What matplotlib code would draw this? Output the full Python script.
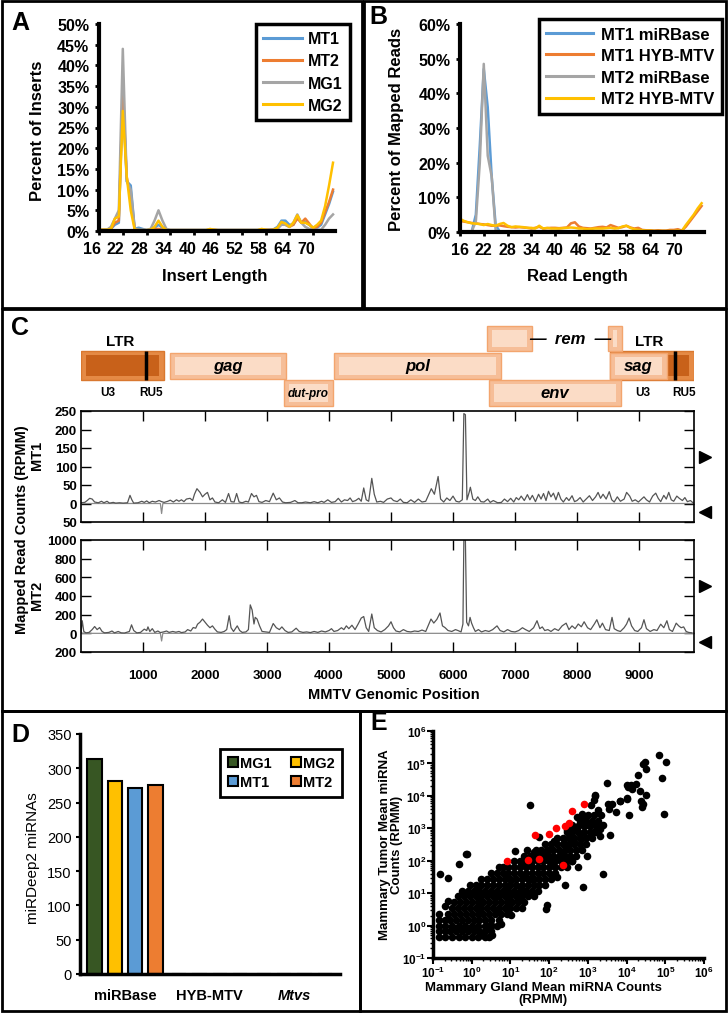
import numpy as np
import matplotlib
matplotlib.use("Agg")
import matplotlib.pyplot as plt
from matplotlib.patches import Rectangle, Patch
from matplotlib.transforms import ScaledTranslation
from matplotlib.ticker import FuncFormatter, LogLocator, NullFormatter

plt.rcParams['font.family'] = ['Liberation Sans', 'DejaVu Sans']
plt.rcParams['mathtext.fontset'] = 'custom'
plt.rcParams['mathtext.rm'] = 'Liberation Sans'
plt.rcParams['mathtext.bf'] = 'Liberation Sans:bold'

########################## data ##########################
# A: insert length distribution (%)
lengths_a = list(range(16, 76))
ins_mt1 = [0.3, 0.3, 0.3, 0.5, 1.5, 2.0, 33, 12, 11, 0.5, 0.8, 0.5,
           0.2, 0.3, 0.8, 1.5, 0.8, 0.3,
           0.2, 0.2, 0.2, 0.2, 0.2, 0.2, 0.2, 0.2, 0.2, 0.2, 0.3, 0.2, 0.2,
           0.2, 0.2, 0.2, 0.2, 0.2, 0.2, 0.2, 0.2, 0.2, 0.2, 0.3, 0.2, 0.3,
           0.4, 1.0, 2.5, 2.5, 1.5, 1.5, 3.5, 2.0, 2.2, 1.5, 0.8, 0.8, 1.5, 4.0, 6.5, 9.5]
ins_mt2 = [0.3, 0.3, 0.3, 0.5, 2.0, 2.5, 34, 13, 8, 0.5, 0.2, 0.2,
           0.2, 0.2, 0.5, 0.5, 0.3, 0.2,
           0.2, 0.2, 0.2, 0.2, 0.2, 0.2, 0.2, 0.2, 0.2, 0.2, 0.3, 0.3, 0.2,
           0.2, 0.2, 0.2, 0.2, 0.2, 0.2, 0.2, 0.2, 0.2, 0.2, 0.3, 0.3, 0.3,
           0.3, 0.6, 1.8, 1.5, 1.0, 1.5, 3.0, 2.0, 3.0, 1.8, 0.5, 1.0, 2.0, 4.5, 7.0, 10.0]
ins_mg1 = [0.3, 0.3, 0.3, 1.0, 3.0, 5.0, 44, 12, 10, 0.5, 0.3, 0.3,
           0.3, 0.5, 2.5, 5.0, 2.5, 0.5,
           0.3, 0.3, 0.3, 0.3, 0.3, 0.3, 0.3, 0.3, 0.3, 0.3, 0.3, 0.3, 0.3,
           0.3, 0.3, 0.3, 0.3, 0.3, 0.3, 0.3, 0.3, 0.3, 0.3, 0.3, 0.3, 0.3,
           0.2, 0.5, 1.5, 1.5, 1.0, 2.0, 4.0, 2.0, 1.0, 0.5, 0.3, 0.3, 0.3, 1.5, 3.0, 4.0]
ins_mg2 = [0.3, 0.3, 0.3, 0.5, 3.0, 3.5, 29, 13, 5, 0.3, 0.2, 0.2,
           0.2, 0.3, 1.0, 2.5, 1.0, 0.2,
           0.2, 0.2, 0.2, 0.2, 0.2, 0.2, 0.2, 0.2, 0.2, 0.2, 0.5, 0.3, 0.2,
           0.2, 0.2, 0.2, 0.2, 0.2, 0.2, 0.2, 0.2, 0.2, 0.2, 0.5, 0.3, 0.2,
           0.3, 0.8, 2.2, 1.8, 1.0, 2.0, 3.8, 2.0, 2.0, 1.5, 0.8, 1.5, 2.5, 6.0, 11.0, 16.5]
labels_a = ['MT1', 'MT2', 'MG1', 'MG2']

# B: read length of mapped reads (%)
lengths_b = list(range(16, 78))
mt1_mirbase = [0, 0, 0, 0.3, 5, 25, 47, 36, 16, 2, 0.2, 0,
               0, 0, 0, 0, 0, 0, 0, 0, 0, 0, 0, 0, 0, 0, 0, 0, 0, 0, 0, 0, 0, 0, 0, 0, 0, 0,
               0, 0, 0, 0, 0, 0, 0, 0, 0, 0, 0, 0, 0, 0, 0, 0, 0, 0, 0, 0, 0, 0, 0, 0]
mt2_mirbase = [0, 0, 0, 0.3, 3, 20, 48.5, 22, 16, 0.5, 0, 0,
               0, 0, 0, 0, 0, 0, 0, 0, 0, 0, 0, 0, 0, 0, 0, 0, 0, 0, 0, 0, 0, 0, 0, 0, 0, 0,
               0, 0, 0, 0, 0, 0, 0, 0, 0, 0, 0, 0, 0, 0, 0, 0, 0, 0, 0, 0, 0, 0, 0, 0]
mt1_hyb = [3.2, 3.0, 2.8, 2.6, 2.5, 2.3, 2.2, 2.0, 1.8, 1.8,
           1.9, 1.7, 1.5, 1.4, 1.3, 1.4, 1.3, 1.2, 1.0, 1.2,
           1.5, 1.0, 1.1, 1.2, 1.2, 1.1, 1.2, 1.3, 2.5, 2.8,
           1.6, 1.2, 1.1, 1.0, 1.2, 1.4, 1.5, 1.3, 2.0, 1.6,
           1.2, 1.4, 1.8, 1.3, 1.0, 1.2, 0.6, 0.5, 0.5, 0.4,
           0.5, 0.4, 0.4, 0.6, 0.6, 0.8, 0.4, 1.5, 3.0, 4.5, 6.0, 7.5]
mt2_hyb = [3.8, 3.2, 2.8, 2.5, 2.4, 2.3, 2.0, 2.3, 2.0, 1.8,
           2.3, 2.6, 1.8, 1.4, 1.6, 1.5, 1.4, 1.2, 1.2, 1.0,
           1.8, 1.0, 1.2, 1.0, 1.0, 1.0, 1.1, 1.2, 1.3, 1.2,
           1.0, 1.0, 0.8, 0.9, 1.0, 1.0, 1.0, 1.1, 1.2, 1.0,
           1.1, 1.6, 1.8, 1.2, 0.8, 0.6, 0.5, 0.4, 0.4, 0.3,
           0.3, 0.3, 0.3, 0.3, 0.3, 0.4, 0.3, 2.0, 3.5, 5.0, 6.8, 8.3]
labels_b = ['MT1 miRBase', 'MT1 HYB-MTV', 'MT2 miRBase', 'MT2 HYB-MTV']

# C: MMTV genome map and coverage (RPMM)
genome_len = 9887
gene_names = ['gag', 'dut-pro', 'pol', 'env', 'sag']
gene_start = [1435, 3274, 4080, 6580, 8532]
gene_end = [3306, 4065, 6774, 8710, 9452]
gene_track = [1, 2, 1, 2, 1]
rem_start = [6548, 8500]
rem_end = [7274, 8726]
ltr_start = [0, 8532]
ltr_end = [1339, 9887]
ltr_bar = [1048, 9580]
u3_pos = [435, 9065]
ru5_pos = [1129, 9726]

mt1_pos = [0, 60, 100, 140, 180, 220, 280, 330, 370, 420, 460, 520, 560, 620, 680, 750, 790, 820, 850,
           920, 980, 1020, 1060, 1100, 1150, 1200, 1260, 1300, 1340, 1400, 1440, 1490, 1540, 1580, 1620,
           1660, 1700, 1760, 1800, 1830, 1870, 1920, 1960, 2000, 2040, 2080, 2120, 2160, 2220, 2280, 2330,
           2380, 2420, 2470, 2510, 2550, 2600, 2660, 2700, 2750, 2790, 2830, 2870, 2920, 2980, 3040, 3100,
           3150, 3200, 3250, 3300, 3380, 3450, 3500, 3560, 3620, 3700, 3760, 3820, 3880, 3920, 3980, 4040,
           4100, 4150, 4200, 4250, 4300, 4340, 4380, 4430, 4480, 4520, 4560, 4600, 4640, 4690, 4730, 4770,
           4830, 4880, 4940, 5000, 5040, 5100, 5150, 5200, 5260, 5320, 5380, 5440, 5500, 5560, 5610, 5650,
           5700, 5760, 5800, 5850, 5900, 5950, 6000, 6050, 6100, 6150, 6175, 6200, 6225, 6260, 6280, 6320,
           6360, 6400, 6450, 6500, 6560, 6600, 6650, 6720, 6780, 6830, 6880, 6930, 6980, 7020, 7060, 7100,
           7150, 7200, 7240, 7280, 7330, 7380, 7420, 7460, 7500, 7540, 7580, 7620, 7660, 7700, 7740, 7780,
           7830, 7870, 7920, 7960, 8000, 8050, 8100, 8160, 8200, 8250, 8300, 8340, 8380, 8420, 8470, 8520,
           8560, 8600, 8650, 8700, 8760, 8800, 8850, 8890, 8940, 8990, 9040, 9080, 9120, 9170, 9220, 9270,
           9310, 9350, 9400, 9440, 9480, 9520, 9560, 9610, 9650, 9700, 9740, 9780, 9830, 9870]
mt1_val = [2, 3, 8, 14, 12, 4, 2, 6, 2, 6, 1, 3, 1, 2, 1, 2, 22, 10, 1,
           2, 6, 3, 7, 2, 6, 4, 8, 5, 3, 6, 9, 4, 10, 6, 10,
           5, 12, 14, 8, 25, 40, 30, 18, 25, 30, 10, 15, 4, 2, 10, 3,
           27, 5, 4, 27, 4, 2, 6, 4, 27, 18, 22, 5, 3, 8, 5, 28,
           10, 15, 4, 2, 3, 8, 2, 2, 4, 2, 5, 2, 6, 3, 10, 3,
           5, 14, 4, 10, 8, 15, 5, 8, 14, 6, 42, 10, 6, 68, 25, 4,
           6, 3, 12, 15, 8, 5, 12, 3, 2, 10, 3, 12, 4, 6, 25, 40,
           25, 73, 12, 4, 15, 8, 20, 6, 4, 10, 243, 240, 10, 30, 44, 12,
           8, 18, 5, 4, 12, 3, 8, 2, 3, 12, 5, 14, 4, 16, 10, 20,
           8, 24, 10, 22, 5, 25, 12, 27, 8, 33, 18, 28, 10, 30, 12, 4,
           16, 8, 21, 5, 8, 16, 4, 14, 21, 8, 18, 30, 14, 25, 12, 32,
           10, 4, 18, 6, 12, 30, 20, 6, 10, 4, 12, 18, 10, 4, 20, 28,
           14, 5, 22, 12, 30, 10, 6, 20, 14, 8, 16, 5, 8, 2]

mt2_pos = [0, 20, 45, 80, 130, 180, 220, 260, 300, 340, 380, 450, 500, 540, 600, 650, 700, 780, 815,
           850, 900, 960, 1020, 1060, 1080, 1110, 1150, 1190, 1240, 1280, 1330, 1380, 1420, 1480, 1530,
           1580, 1620, 1680, 1720, 1770, 1810, 1850, 1880, 1920, 1960, 2000, 2040, 2080, 2120, 2160, 2200,
           2260, 2310, 2350, 2390, 2420, 2460, 2520, 2560, 2600, 2660, 2700, 2730, 2760, 2790, 2810, 2840,
           2880, 2920, 2980, 3040, 3100, 3150, 3200, 3240, 3290, 3340, 3400, 3470, 3520, 3580, 3640, 3700,
           3760, 3820, 3880, 3940, 4000, 4040, 4080, 4140, 4200, 4240, 4280, 4320, 4370, 4420, 4470, 4520,
           4560, 4600, 4640, 4690, 4730, 4780, 4840, 4900, 4960, 5000, 5040, 5080, 5140, 5200, 5260, 5320,
           5380, 5440, 5500, 5560, 5610, 5645, 5690, 5740, 5790, 5830, 5870, 5920, 5980, 6040, 6080, 6130,
           6160, 6175, 6200, 6220, 6250, 6275, 6300, 6330, 6360, 6410, 6460, 6520, 6580, 6640, 6710, 6760,
           6820, 6880, 6940, 7000, 7060, 7120, 7170, 7230, 7300, 7355, 7400, 7440, 7480, 7530, 7580, 7640,
           7700, 7760, 7825, 7870, 7920, 7970, 8020, 8070, 8115, 8170, 8220, 8280, 8320, 8370, 8410, 8460,
           8520, 8565, 8600, 8650, 8700, 8760, 8800, 8840, 8880, 8930, 8980, 9040, 9080, 9120, 9180, 9240,
           9290, 9350, 9400, 9450, 9490, 9540, 9600, 9640, 9680, 9720, 9760, 9800, 9850]
mt2_val = [5, 135, 20, 5, 10, 40, 73, 40, 62, 20, 5, 10, 25, 5, 20, 5, 3, 20, 91,
           30, 5, 10, 45, 30, 69, 20, 50, 10, 25, 8, 15, 25, 10, 20, 12,
           20, 8, 15, 40, 25, 62, 55, 98, 120, 153, 120, 87, 60, 80, 44, 15,
           10, 20, 40, 189, 60, 20, 80, 30, 10, 15, 40, 305, 250, 100, 171, 153,
           80, 20, 15, 10, 105, 60, 40, 69, 30, 10, 15, 55, 20, 10, 15, 8,
           20, 10, 25, 15, 30, 50, 20, 30, 60, 40, 80, 50, 87, 40, 100, 164,
           180, 60, 20, 207, 60, 30, 15, 40, 80, 124, 60, 25, 15, 40, 20, 15,
           25, 20, 35, 20, 100, 153, 110, 150, 218, 80, 62, 30, 20, 40, 30, 15,
           100, 1000, 1000, 120, 80, 171, 109, 60, 20, 40, 15, 30, 20, 40, 80, 30,
           15, 40, 20, 15, 30, 60, 40, 20, 60, 135, 50, 69, 30, 40, 20, 50,
           30, 80, 109, 40, 80, 50, 100, 70, 124, 60, 40, 100, 146, 60, 109, 40,
           30, 171, 50, 30, 20, 60, 100, 164, 80, 30, 20, 60, 146, 50, 20, 40,
           30, 98, 60, 135, 40, 20, 109, 80, 60, 69, 20, 10, 5]

neg_pos = [0, 1280, 1300, 1320, 9887]
mt1_neg = [0, 0, -27, 0, 0]
mt2_neg = [0, 0, -82, 0, 0]

# D: miRDeep2 miRNA counts
d_cats = ['miRBase', 'HYB-MTV', 'Mtvs']
d_mg1 = [313, 0, 0]
d_mg2 = [281, 0, 0]
d_mt1 = [271, 0, 0]
d_mt2 = [275, 0, 0]

# E: mean miRNA counts, log10 RPMM (gland x, tumor y)
e_scat_x = [4.84, 5.01, 4.43, 4.49, 4.91, 4.97, 4.49, 4.37, 4.41, 4.24, 4.11, 4.02, 4.15, 4.00, 4.05,
            3.50, 3.83, 3.63, 3.55, 3.72, 3.57, 3.40, 3.18, 3.16, 3.25, 3.07, 3.33, 3.38, 3.20, 2.86,
            2.90, 2.73, 2.94, 2.73, 3.16, 3.32, 3.07, 2.82, 2.60, 2.47, 2.56, 2.64, 2.38, 2.43, 2.30,
            2.43, 2.21, 2.08, 2.82, 2.38, 2.41, 2.88, 2.13, 2.13, 2.04, 1.94, 1.74, 1.78, 1.87, 1.61,
            1.48, 1.44, 1.51, 1.12, 1.52, 1.27, 1.35, 1.52, 1.27, 1.94, 1.91, 1.01, 0.92, 0.71, -0.11,
            -0.16, -0.33, -0.82, -0.61, 0.66, 0.75, 1.01, 0.49, 0.53, 0.27, 3.19, 3.52, 3.83, 4.0, 4.04,
            4.30, 4.47, 4.35, 4.43, 2.80, 2.97, 2.75, 3.32, 0.65, 0.39, -0.7, -0.6, 2.2, 2.6, 1.2]
e_scat_y = [5.27, 5.04, 4.99, 4.82, 4.55, 3.45, 4.04, 3.83, 3.66, 4.38, 4.34, 4.32, 4.22, 3.93, 3.42,
            4.40, 3.83, 3.76, 3.60, 3.50, 2.78, 1.60, 4.02, 3.86, 3.55, 3.71, 3.40, 3.09, 3.16, 3.45,
            3.30, 3.35, 3.09, 2.94, 2.88, 2.99, 2.78, 2.68, 3.09, 2.94, 2.78, 2.58, 2.68, 2.47, 2.22,
            2.11, 2.06, 1.86, 2.37, 1.86, 1.24, 1.19, 1.55, 2.60, 2.37, 2.22, 2.73, 2.27, 2.01, 2.27,
            2.06, 2.32, 3.73, 2.29, 1.86, 1.86, 1.55, 1.45, 1.19, 0.62, 0.52, 1.39, 1.14, 1.81, 2.22,
            2.20, 1.89, 1.60, 1.48, 0.42, 0.06, 0.32, 0.01, -0.30, -0.30, 3.99, 3.74, 3.84, 3.90, 4.26,
            4.63, 5.05, 4.16, 3.75, 2.82, 2.15, 1.80, 2.76, 0.92, -0.01, 0.6, 0.75, 1.5, 2.0, 0.8]
e_core_y = [-0.35, -0.17, 0.0, 0.18, 0.36, 0.54, 0.72, 0.9, 1.08, 1.26, 1.44, 1.62, 1.8, 1.98,
            2.16, 2.34, 2.52, 2.7, 2.88, 3.06, 3.24, 3.42]
e_core_x = [
    [-0.85, -0.68, -0.51, -0.34, -0.17, 0.0, 0.17, 0.34, 0.45],
    [-0.85, -0.7, -0.55, -0.4, -0.25, -0.1, 0.05, 0.2, 0.35, 0.5],
    [-0.85, -0.68, -0.51, -0.34, -0.17, 0.0, 0.17, 0.34, 0.51, 0.65],
    [-0.85, -0.7, -0.55, -0.4, -0.25, -0.1, 0.05, 0.2, 0.35, 0.5, 0.7],
    [-0.85, -0.6, -0.45, -0.3, -0.15, 0.0, 0.15, 0.3, 0.45, 0.6, 0.75, 0.9],
    [-0.5, -0.35, -0.2, -0.05, 0.1, 0.25, 0.4, 0.55, 0.7, 0.85, 1.0, 1.15, 1.3],
    [-0.45, -0.3, -0.15, 0.0, 0.15, 0.3, 0.45, 0.6, 0.75, 0.9, 1.05, 1.2, 1.35],
    [-0.35, -0.2, -0.05, 0.1, 0.25, 0.4, 0.55, 0.7, 0.85, 1.0, 1.15, 1.3, 1.45, 1.6],
    [-0.25, -0.1, 0.05, 0.2, 0.35, 0.5, 0.65, 0.8, 0.95, 1.1, 1.25, 1.4, 1.55, 1.7],
    [-0.05, 0.1, 0.25, 0.4, 0.55, 0.7, 0.85, 1.0, 1.15, 1.3, 1.45, 1.6, 1.75, 1.9],
    [0.25, 0.4, 0.55, 0.7, 0.85, 1.0, 1.15, 1.3, 1.45, 1.6, 1.75, 1.9, 2.05],
    [0.5, 0.65, 0.8, 0.95, 1.1, 1.25, 1.4, 1.55, 1.7, 1.85, 2.0, 2.15],
    [0.8, 0.95, 1.1, 1.25, 1.4, 1.55, 1.7, 1.85, 2.0, 2.15, 2.3, 2.45],
    [1.1, 1.25, 1.4, 1.55, 1.7, 1.85, 2.0, 2.15, 2.3, 2.45, 2.6],
    [1.35, 1.5, 1.65, 1.8, 1.95, 2.1, 2.25, 2.4, 2.55, 2.7],
    [1.65, 1.8, 1.95, 2.1, 2.25, 2.4, 2.55, 2.7, 2.85],
    [1.9, 2.05, 2.2, 2.35, 2.5, 2.65, 2.8, 2.95],
    [2.2, 2.35, 2.5, 2.65, 2.8, 2.95, 3.1],
    [2.45, 2.6, 2.75, 2.9, 3.05, 3.2],
    [2.6, 2.75, 2.9, 3.05, 3.2, 3.35],
    [2.8, 2.95, 3.1, 3.25],
    [3.0, 3.15],
]
e_red_x = [2.90, 2.60, 2.41, 2.50, 2.17, 2.00, 1.64, 0.90, 1.45, 1.74, 2.36]
e_red_y = [3.76, 3.52, 3.07, 3.17, 3.01, 2.83, 2.80, 1.99, 2.01, 2.06, 1.86]

########################## figure ##########################
W, H = 728, 1020
fig = plt.figure(figsize=(W / 100, H / 100), dpi=100)


def px_axes(x0, y0, x1, y1):
    return fig.add_axes([x0 / W, 1 - y1 / H, (x1 - x0) / W, (y1 - y0) / H])


def ftext(x, y, s, **kw):
    fig.text(x / W, 1 - y / H, s, **kw)


# panel frames
for x0, y0, x1, y1 in [(2, 2, 362, 309), (364, 2, 726, 309), (2, 310, 726, 712),
                       (2, 712, 360, 1012), (360, 712, 726, 1012)]:
    fig.add_artist(Rectangle((x0 / W, 1 - y1 / H), (x1 - x0) / W, (y1 - y0) / H,
                             transform=fig.transFigure, fill=False, lw=2, ec='black'))

excel = ['#5B9BD5', '#ED7D31', '#A5A5A5', '#FFC000']
pct = FuncFormatter(lambda v, p: f"{v:.0f}%")

# ---------- A ----------
axA = px_axes(99, 25, 335, 232)
for vals, col, lab in zip([ins_mt1, ins_mt2, ins_mg1, ins_mg2], excel, labels_a):
    axA.plot(lengths_a, vals, color=col, lw=1.8, label=lab)
axA.set_xlim(16, 75.5)
axA.set_ylim(0, 50)
axA.set_yticks(range(0, 51, 5))
axA.yaxis.set_major_formatter(pct)
axA.set_xticks(range(16, 71, 6))

# ---------- B ----------
axB = px_axes(460, 25, 704, 233)
for vals, col, lab in zip([mt1_mirbase, mt1_hyb, mt2_mirbase, mt2_hyb], excel, labels_b):
    axB.plot(lengths_b, vals, color=col, lw=1.8, label=lab)
axB.set_xlim(16, 77.6)
axB.set_ylim(0, 60)
axB.set_yticks(range(0, 61, 10))
axB.yaxis.set_major_formatter(pct)
axB.set_xticks(range(16, 71, 6))

for ax in (axA, axB):
    for s in ('top', 'right'):
        ax.spines[s].set_visible(False)
    for s in ('left', 'bottom'):
        ax.spines[s].set_linewidth(3)
    ax.tick_params(direction='out', length=3, width=2, labelsize=11.5, pad=4)
    for lab in ax.get_xticklabels() + ax.get_yticklabels():
        lab.set_fontweight('bold')

shift = ScaledTranslation(-0.07, 0, fig.dpi_scale_trans)
for lab in axA.get_xticklabels():
    lab.set_transform(lab.get_transform() + shift)

legA = axA.legend(loc='upper right', bbox_to_anchor=(350 / W, 1 - 25 / H), bbox_transform=fig.transFigure,
                  borderaxespad=0, fancybox=False, edgecolor='black', framealpha=1,
                  prop={'weight': 'bold', 'size': 11.5}, handlelength=2.4, handletextpad=0.4,
                  labelspacing=0.45, borderpad=0.45)
legA.get_frame().set_linewidth(2.5)
for ln in legA.get_lines():
    ln.set_linewidth(2.2)
legB = axB.legend(loc='upper right', bbox_to_anchor=(722 / W, 1 - 20 / H), bbox_transform=fig.transFigure,
                  borderaxespad=0, fancybox=False, edgecolor='black', framealpha=1,
                  prop={'weight': 'bold', 'size': 12}, handlelength=2.8, handletextpad=0.5,
                  labelspacing=0.4, borderpad=0.45)
legB.get_frame().set_linewidth(2.5)
for ln in legB.get_lines():
    ln.set_linewidth(2.2)

ftext(38, 131, 'Percent of Inserts', rotation=90, ha='center', va='center', fontsize=12, fontweight='bold')
ftext(215, 277, 'Insert Length', ha='center', va='center', fontsize=12, fontweight='bold')
ftext(397, 129, 'Percent of Mapped Reads', rotation=90, ha='center', va='center', fontsize=12, fontweight='bold')
ftext(577, 277, 'Read Length', ha='center', va='center', fontsize=12, fontweight='bold')

# ---------- C : genome map ----------
axM = px_axes(81, 318, 694, 412)
axM.set_xlim(0, genome_len)
axM.set_ylim(94, 0)
axM.axis('off')
track_top = {0: 9, 1: 36, 2: 63}
box_h = 26
ix, iy = 75, 4


def bevel_box(x0, x1, top, h, outer, inner, edge):
    axM.add_patch(Rectangle((x0, top), x1 - x0, h, facecolor=outer, edgecolor=edge, lw=1))
    axM.add_patch(Rectangle((x0 + ix, top + iy), x1 - x0 - 2 * ix, h - 2 * iy, facecolor=inner, lw=0))


for s, e, b in zip(ltr_start, ltr_end, ltr_bar):
    bevel_box(s, e, 34, 29, '#E58A45', '#C8611A', '#D9782F')
    axM.plot([b, b], [34, 63], color='black', lw=2.5, solid_capstyle='butt')
for s, e, t in zip(gene_start, gene_end, gene_track):
    bevel_box(s, e, track_top[t], box_h, '#F6BE98', '#FBDCC6', '#F3A56E')
for s, e in zip(rem_start, rem_end):
    bevel_box(s, e, track_top[0], 25, '#F6BE98', '#FBDCC6', '#F3A56E')
for name, s, e, t in zip(gene_names, gene_start, gene_end, gene_track):
    axM.text((s + e) / 2, track_top[t] + box_h / 2, name, ha='center', va='center',
             fontsize=8.5 if name == 'dut-pro' else 12, fontweight='bold', fontstyle='italic')
axM.text((rem_end[0] + rem_start[1]) / 2, track_top[0] + 12.5, '\u2014  rem  \u2014', ha='center', va='center',
         fontsize=12, fontweight='bold', fontstyle='italic')
for s, e in zip(ltr_start, ltr_end):
    axM.text((s + e) / 2 - 40, 24, 'LTR', ha='center', va='center', fontsize=11, fontweight='bold')
for p in u3_pos:
    axM.text(p, 75, 'U3', ha='center', va='center', fontsize=8.5, fontweight='bold')
for p in ru5_pos:
    axM.text(p, 75, 'RU5', ha='center', va='center', fontsize=8.5, fontweight='bold')

# ---------- C : coverage ----------
axT1 = px_axes(81, 412, 694, 523)
axT2 = px_axes(81, 541, 694, 653)
axT1.plot(neg_pos, mt1_neg, color='#8c8c8c', lw=0.9)
axT1.plot(mt1_pos, mt1_val, color='#555555', lw=0.9)
axT2.plot(neg_pos, mt2_neg, color='#8c8c8c', lw=0.9)
axT2.plot(mt2_pos, mt2_val, color='#555555', lw=0.9)
axT1.set_ylim(-50, 250)
axT1.set_yticks(range(-50, 251, 50))
axT2.set_ylim(-200, 1000)
axT2.set_yticks(range(-200, 1001, 200))
absfmt = FuncFormatter(lambda v, p: f"{abs(v):.0f}")
for ax in (axT1, axT2):
    ax.set_xlim(0, genome_len)
    ax.set_xticks(range(1000, 9001, 1000))
    ax.yaxis.set_major_formatter(absfmt)
    ax.tick_params(direction='in', length=7, width=1, top=True, right=True, labelsize=9.5, pad=3)
    for s in ax.spines.values():
        s.set_linewidth(1.2)
    for lab in ax.get_xticklabels() + ax.get_yticklabels():
        lab.set_fontweight('bold')
    ax.plot([1.018], [0.59], marker='>', color='black', markersize=9, transform=ax.transAxes, clip_on=False)
    ax.plot([1.018], [0.09], marker='<', color='black', markersize=9, transform=ax.transAxes, clip_on=False)
axT1.tick_params(labelbottom=False)
axT2.tick_params(pad=12)
axT2.tick_params(axis='y', pad=3)

ftext(22, 530, 'Mapped Read Counts (RPMM)', rotation=90, ha='center', va='center', fontsize=10.5, fontweight='bold')
ftext(37, 455, 'MT1', rotation=90, ha='center', va='center', fontsize=10.5, fontweight='bold')
ftext(37, 595, 'MT2', rotation=90, ha='center', va='center', fontsize=10.5, fontweight='bold')
ftext(394, 695, 'MMTV Genomic Position', ha='center', va='center', fontsize=10.5, fontweight='bold')

# ---------- D ----------
axD = px_axes(80, 735, 340, 975)
d_cols = ['#375623', '#FFC000', '#5B9BD5', '#ED7D31']
d_labels = ['MG1', 'MG2', 'MT1', 'MT2']
xc = np.arange(len(d_cats))
for k, (vals, col) in enumerate(zip([d_mg1, d_mg2, d_mt1, d_mt2], d_cols)):
    axD.bar(xc + (k - 1.5) * 0.24, vals, width=0.17, color=col, edgecolor='black', lw=1.5)
axD.set_xlim(-0.53, 2.54)
axD.set_ylim(0, 350)
axD.set_yticks(range(0, 351, 50))
axD.set_xticks(xc)
axD.set_xticklabels(d_cats, fontweight='bold', fontsize=10.5)
axD.get_xticklabels()[2].set_fontstyle('italic')
axD.tick_params(axis='x', length=0, pad=10)
axD.tick_params(axis='y', direction='out', length=3, width=1.5, labelsize=10.5, pad=3)
for s in ('top', 'right'):
    axD.spines[s].set_visible(False)
for s in ('left', 'bottom'):
    axD.spines[s].set_linewidth(2.5)
handles = [Patch(facecolor=c, edgecolor='black', lw=1.5) for c in d_cols]
order = [0, 2, 1, 3]
legD = axD.legend([handles[i] for i in order], [d_labels[i] for i in order], ncol=2,
                  loc='upper right', bbox_to_anchor=(342 / W, 1 - 750 / H), bbox_transform=fig.transFigure,
                  borderaxespad=0, fancybox=False, edgecolor='black', framealpha=1,
                  prop={'weight': 'bold', 'size': 10.5}, handlelength=0.7, handleheight=0.7,
                  handletextpad=0.15, columnspacing=1.3, labelspacing=0.35, borderpad=0.5)
legD.get_frame().set_linewidth(2)
ftext(33, 858, 'miRDeep2 miRNAs', rotation=90, ha='center', va='center', fontsize=11)

# ---------- E ----------
axE = px_axes(433, 732, 704, 959)
core_x = [x for row in e_core_x for x in row]
core_y = [y for row, y in zip(e_core_x, e_core_y) for x in row]
axE.scatter(10 ** np.array(core_x), 10 ** np.array(core_y), s=30, color='black', lw=0)
axE.scatter(10 ** np.array(e_scat_x), 10 ** np.array(e_scat_y), s=30, color='black', lw=0)
axE.scatter(10 ** np.array(e_red_x), 10 ** np.array(e_red_y), s=30, color='#FF0000', lw=0, zorder=3)
axE.set_xscale('log')
axE.set_yscale('log')
axE.set_xlim(1e-1, 1e6)
axE.set_ylim(1e-1, 1e6)
decades = FuncFormatter(lambda v, p: r'$\mathbf{10^{%d}}$' % int(round(np.log10(v))))
for a in (axE.xaxis, axE.yaxis):
    a.set_major_locator(LogLocator(base=10, numticks=10))
    a.set_major_formatter(decades)
    a.set_minor_locator(LogLocator(base=10, subs=np.arange(2, 10), numticks=10))
    a.set_minor_formatter(NullFormatter())
axE.tick_params(which='major', direction='out', length=4, width=1.5, labelsize=8.5, pad=1)
axE.tick_params(which='minor', direction='out', length=2.5, width=1)
for s in ('top', 'right'):
    axE.spines[s].set_visible(False)
for s in ('left', 'bottom'):
    axE.spines[s].set_linewidth(2.5)
ftext(543, 994, 'Mammary Gland Mean miRNA Counts\n(RPMM)', ha='center', va='center', fontsize=9.5,
      fontweight='bold', linespacing=1.05)
ftext(391, 845, 'Mammary Tumor Mean miRNA\nCounts (RPMM)', rotation=90, ha='center', va='center',
      fontsize=9.5, fontweight='bold', linespacing=1.0)

# panel letters
for s, x, y in [('A', 20, 23), ('B', 378, 17), ('C', 20, 328), ('D', 20, 735), ('E', 379, 723)]:
    ftext(x, y, s, ha='center', va='center', fontsize=18, fontweight='bold')

fig.savefig('out.png', dpi=100, facecolor='white')
